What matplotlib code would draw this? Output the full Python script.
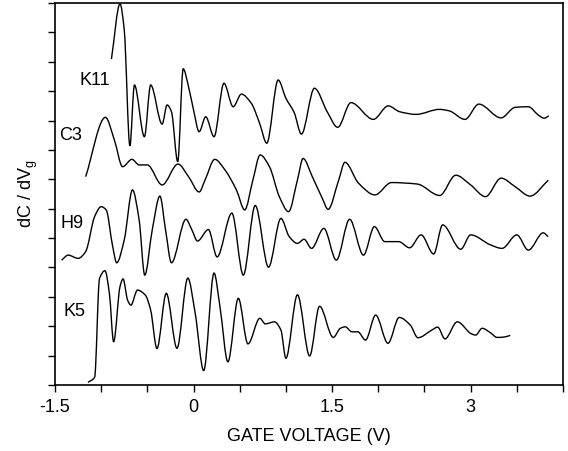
import matplotlib
matplotlib.use("Agg")
import matplotlib.pyplot as plt
import numpy as np
from matplotlib.path import Path
from matplotlib.patches import PathPatch
from matplotlib.ticker import MultipleLocator, FormatStrFormatter

plt.rcParams["font.family"] = ["Liberation Sans", "DejaVu Sans"]
plt.rcParams["mathtext.default"] = "regular"
plt.rcParams["axes.unicode_minus"] = False

# gate voltage (V) and stacked dC/dVg traces (arbitrary units, offset per sample)
k11_v = [-0.889, -0.796, -0.75, -0.689, -0.64, -0.532, -0.464, -0.34, -0.286,
         -0.239, -0.171, -0.112, -0.054, 0.0, 0.061, 0.132, 0.222, 0.329, 0.429,
         0.518, 0.625, 0.715, 0.793, 0.916, 1.0, 1.09, 1.168, 1.309, 1.447,
         1.561, 1.704, 1.947, 2.108, 2.232, 2.411, 2.661, 2.768, 2.939, 3.089,
         3.329, 3.482, 3.625, 3.732, 3.796, 3.847]
k11_y = [11.09, 12.97, 12.08, 8.14, 10.21, 8.45, 10.21, 8.88, 9.53,
         9.30, 7.60, 10.76, 10.15, 9.36, 8.62, 9.13, 8.45, 10.27, 9.47,
         9.90, 9.59, 8.91, 8.23, 10.38, 9.76, 9.27, 8.54, 10.10, 9.30,
         8.77, 9.61, 9.04, 9.50, 9.30, 9.21, 9.38, 9.33, 9.04, 9.56,
         9.09, 9.45, 9.47, 9.19, 9.08, 9.16]

c3_v = [-1.168, -0.954, -0.857, -0.768, -0.667, -0.589, -0.5, -0.34, -0.168,
        -0.054, 0.061, 0.125, 0.23, 0.34, 0.464, 0.554, 0.643, 0.721, 0.822,
        0.929, 1.029, 1.125, 1.186, 1.286, 1.393, 1.457, 1.572, 1.639, 1.786,
        1.964, 2.143, 2.422, 2.665, 2.839, 3.0, 3.161, 3.33, 3.482, 3.643,
        3.841]
c3_y = [7.09, 9.11, 8.34, 7.43, 7.68, 7.49, 7.49, 6.81, 7.52,
        7.09, 6.57, 6.98, 7.68, 7.32, 6.64, 5.96, 6.98, 7.83, 7.43,
        6.41, 5.90, 6.98, 7.71, 7.09, 6.36, 5.98, 6.98, 7.58, 6.87,
        6.47, 6.89, 6.84, 6.45, 7.14, 6.81, 6.41, 7.04, 6.75, 6.43,
        6.97]

h9_v = [-1.428, -1.357, -1.25, -1.168, -1.071, -1.0, -0.946, -0.875, -0.832,
        -0.75, -0.661, -0.589, -0.528, -0.447, -0.364, -0.303, -0.239, -0.082,
        -0.018, 0.043, 0.161, 0.255, 0.415, 0.539, 0.668, 0.812, 0.946, 1.036,
        1.125, 1.197, 1.278, 1.411, 1.546, 1.69, 1.84, 1.958, 2.071, 2.221,
        2.339, 2.464, 2.6, 2.697, 2.893, 3.0, 3.214, 3.34, 3.5, 3.625, 3.786,
        3.839]
h9_y = [4.25, 4.42, 4.31, 4.54, 5.73, 6.07, 5.96, 4.71, 4.16,
        4.94, 6.64, 5.62, 3.74, 5.28, 6.43, 5.28, 4.16, 5.64,
        5.28, 4.90, 5.29, 4.36, 5.85, 3.74, 6.11, 4.01, 5.67, 5.05,
        4.82, 4.96, 4.65, 5.33, 4.25, 5.64, 4.42, 5.39, 4.88, 4.88,
        4.67, 5.11, 4.46, 5.45, 4.62, 5.11, 4.77, 4.65, 5.11, 4.59, 5.18,
        5.05]

k5_v = [-1.143, -1.071, -1.018, -0.959, -0.911, -0.865, -0.796, -0.763, -0.714,
        -0.678, -0.607, -0.522, -0.464, -0.396, -0.295, -0.179, -0.062, 0.018,
        0.11, 0.222, 0.286, 0.372, 0.485, 0.589, 0.718, 0.777, 0.875, 0.946,
        1.0, 1.125, 1.257, 1.364, 1.513, 1.589, 1.643, 1.714, 1.779, 1.862,
        1.972, 2.105, 2.227, 2.347, 2.429, 2.58, 2.643, 2.722, 2.855, 3.009,
        3.054, 3.125, 3.214, 3.286, 3.357, 3.429]
k5_y = [0.09, 0.26, 3.62, 3.89, 3.12, 1.47, 3.35, 3.61, 2.89,
        2.72, 3.23, 3.06, 2.55, 1.24, 3.12, 1.25, 3.64, 2.44,
        0.49, 3.81, 2.67, 0.79, 2.95, 1.40, 2.27, 2.08, 2.15, 1.87,
        0.91, 3.07, 0.99, 2.68, 1.62, 1.93, 1.98, 1.81, 1.81, 1.53,
        2.38, 1.42, 2.30, 2.04, 1.61, 1.87, 1.97, 1.57, 2.15, 1.74,
        1.70, 1.93, 1.78, 1.62, 1.63, 1.69]

trace_names = ["K11", "C3", "H9", "K5"]
label_x = [-1.071, -1.329, -1.312, -1.286]
label_y = [10.38, 8.48, 5.48, 2.50]


def smooth_trace(v, y):
    """Bezier path through every sample, with monotone (PCHIP-style) tangents."""
    x = np.asarray(v, dtype=float)
    y = np.asarray(y, dtype=float)
    h = np.diff(x)
    d = np.diff(y) / h
    m = np.zeros_like(y)
    m[0], m[-1] = d[0], d[-1]
    same = d[:-1] * d[1:] > 0
    inner = np.zeros(len(d) - 1)
    inner[same] = 2 * d[:-1][same] * d[1:][same] / (d[:-1][same] + d[1:][same])
    m[1:-1] = inner
    verts = [(x[0], y[0])]
    codes = [Path.MOVETO]
    for i in range(len(h)):
        verts += [(x[i] + h[i] / 3, y[i] + m[i] * h[i] / 3),
                  (x[i + 1] - h[i] / 3, y[i + 1] - m[i + 1] * h[i] / 3),
                  (x[i + 1], y[i + 1])]
        codes += [Path.CURVE4] * 3
    return Path(verts, codes)


fig = plt.figure(figsize=(5.68, 4.51), dpi=100)
ax = fig.add_axes([0.0968, 0.1463, 0.8944, 0.847])

for v, y in [(k11_v, k11_y), (c3_v, c3_y), (h9_v, h9_y), (k5_v, k5_y)]:
    ax.add_patch(PathPatch(smooth_trace(v, y), fill=False,
                           edgecolor="black", linewidth=1.0))

for name, x, y in zip(trace_names, label_x, label_y):
    ax.text(x, y, name, fontsize=13, ha="center", va="center")

ax.set_xlim(-1.5, 4.0)
ax.set_ylim(0, 13)
ax.xaxis.set_major_locator(MultipleLocator(1.5))
ax.xaxis.set_major_formatter(FormatStrFormatter("%g"))
ax.xaxis.set_minor_locator(MultipleLocator(0.5))
ax.yaxis.set_major_locator(MultipleLocator(1))
ax.set_yticklabels([])
ax.tick_params(which="both", direction="out", length=5, width=1.0)
ax.tick_params(axis="x", labelsize=13, pad=5)
for spine in ax.spines.values():
    spine.set_linewidth(1.2)

ax.set_xlabel("GATE VOLTAGE (V)", fontsize=13)
ax.xaxis.set_label_coords(0.5, -0.1126)
ax.set_ylabel("dC / dV$_{g}$", fontsize=13)
ax.yaxis.set_label_coords(-0.03, 0.5)

fig.savefig("out.png", dpi=100)
